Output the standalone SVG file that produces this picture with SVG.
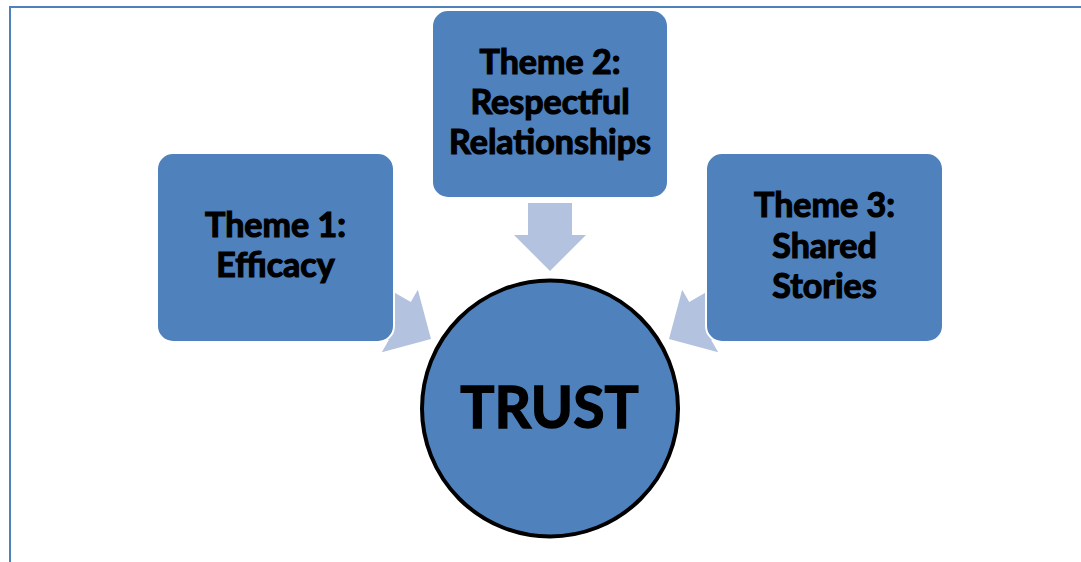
<svg xmlns="http://www.w3.org/2000/svg" width="1081" height="562" viewBox="0 0 1081 562">
<defs>
<style>
.box{fill:#4f81bd;stroke:#ffffff;stroke-width:2}
.arrow{fill:#b3c2de}
.lbl{font-family:Lato,"Open Sans","Liberation Sans",sans-serif;font-weight:bold;font-size:34px;fill:#000;stroke:#000;stroke-width:1.2;text-anchor:middle}
.big{font-size:57px;stroke-width:1.4}
</style>
<path id="arr" d="M0,0 L-36,-36 L-36,-22 L-68,-22 L-68,22 L-36,22 L-36,36 Z"/>
</defs>
<rect width="1081" height="562" fill="#ffffff"/>
<g id="frame" fill="none" stroke="#4f81bd" stroke-width="2">
<path d="M10,562 L10,7 L1081,7"/>
</g>
<g id="connectors" class="arrow">
<use href="#arr" transform="translate(550,271) rotate(90)"/>
<use href="#arr" transform="translate(431,339) rotate(30)"/>
<use href="#arr" transform="translate(669,339) rotate(150)"/>
</g>
<g id="theme1">
<rect class="box" x="157" y="153" width="237" height="189" rx="16"/>
<text class="lbl" x="275.5" y="237">Theme 1:</text>
<text class="lbl" x="275.5" y="277">Efficacy</text>
</g>
<g id="theme2">
<rect class="box" x="432" y="10" width="236" height="188" rx="16"/>
<text class="lbl" x="550" y="74">Theme 2:</text>
<text class="lbl" x="550" y="114">Respectful</text>
<text class="lbl" x="550" y="154">Relationships</text>
</g>
<g id="theme3">
<rect class="box" x="706" y="153" width="237" height="189" rx="16"/>
<text class="lbl" x="824.5" y="217">Theme 3:</text>
<text class="lbl" x="824.5" y="258">Shared</text>
<text class="lbl" x="824.5" y="298">Stories</text>
</g>
<g id="trust">
<circle cx="550" cy="408.5" r="128" fill="#4f81bd" stroke="#000000" stroke-width="4"/>
<text class="lbl big" x="549.5" y="428">TRUST</text>
</g>
</svg>
